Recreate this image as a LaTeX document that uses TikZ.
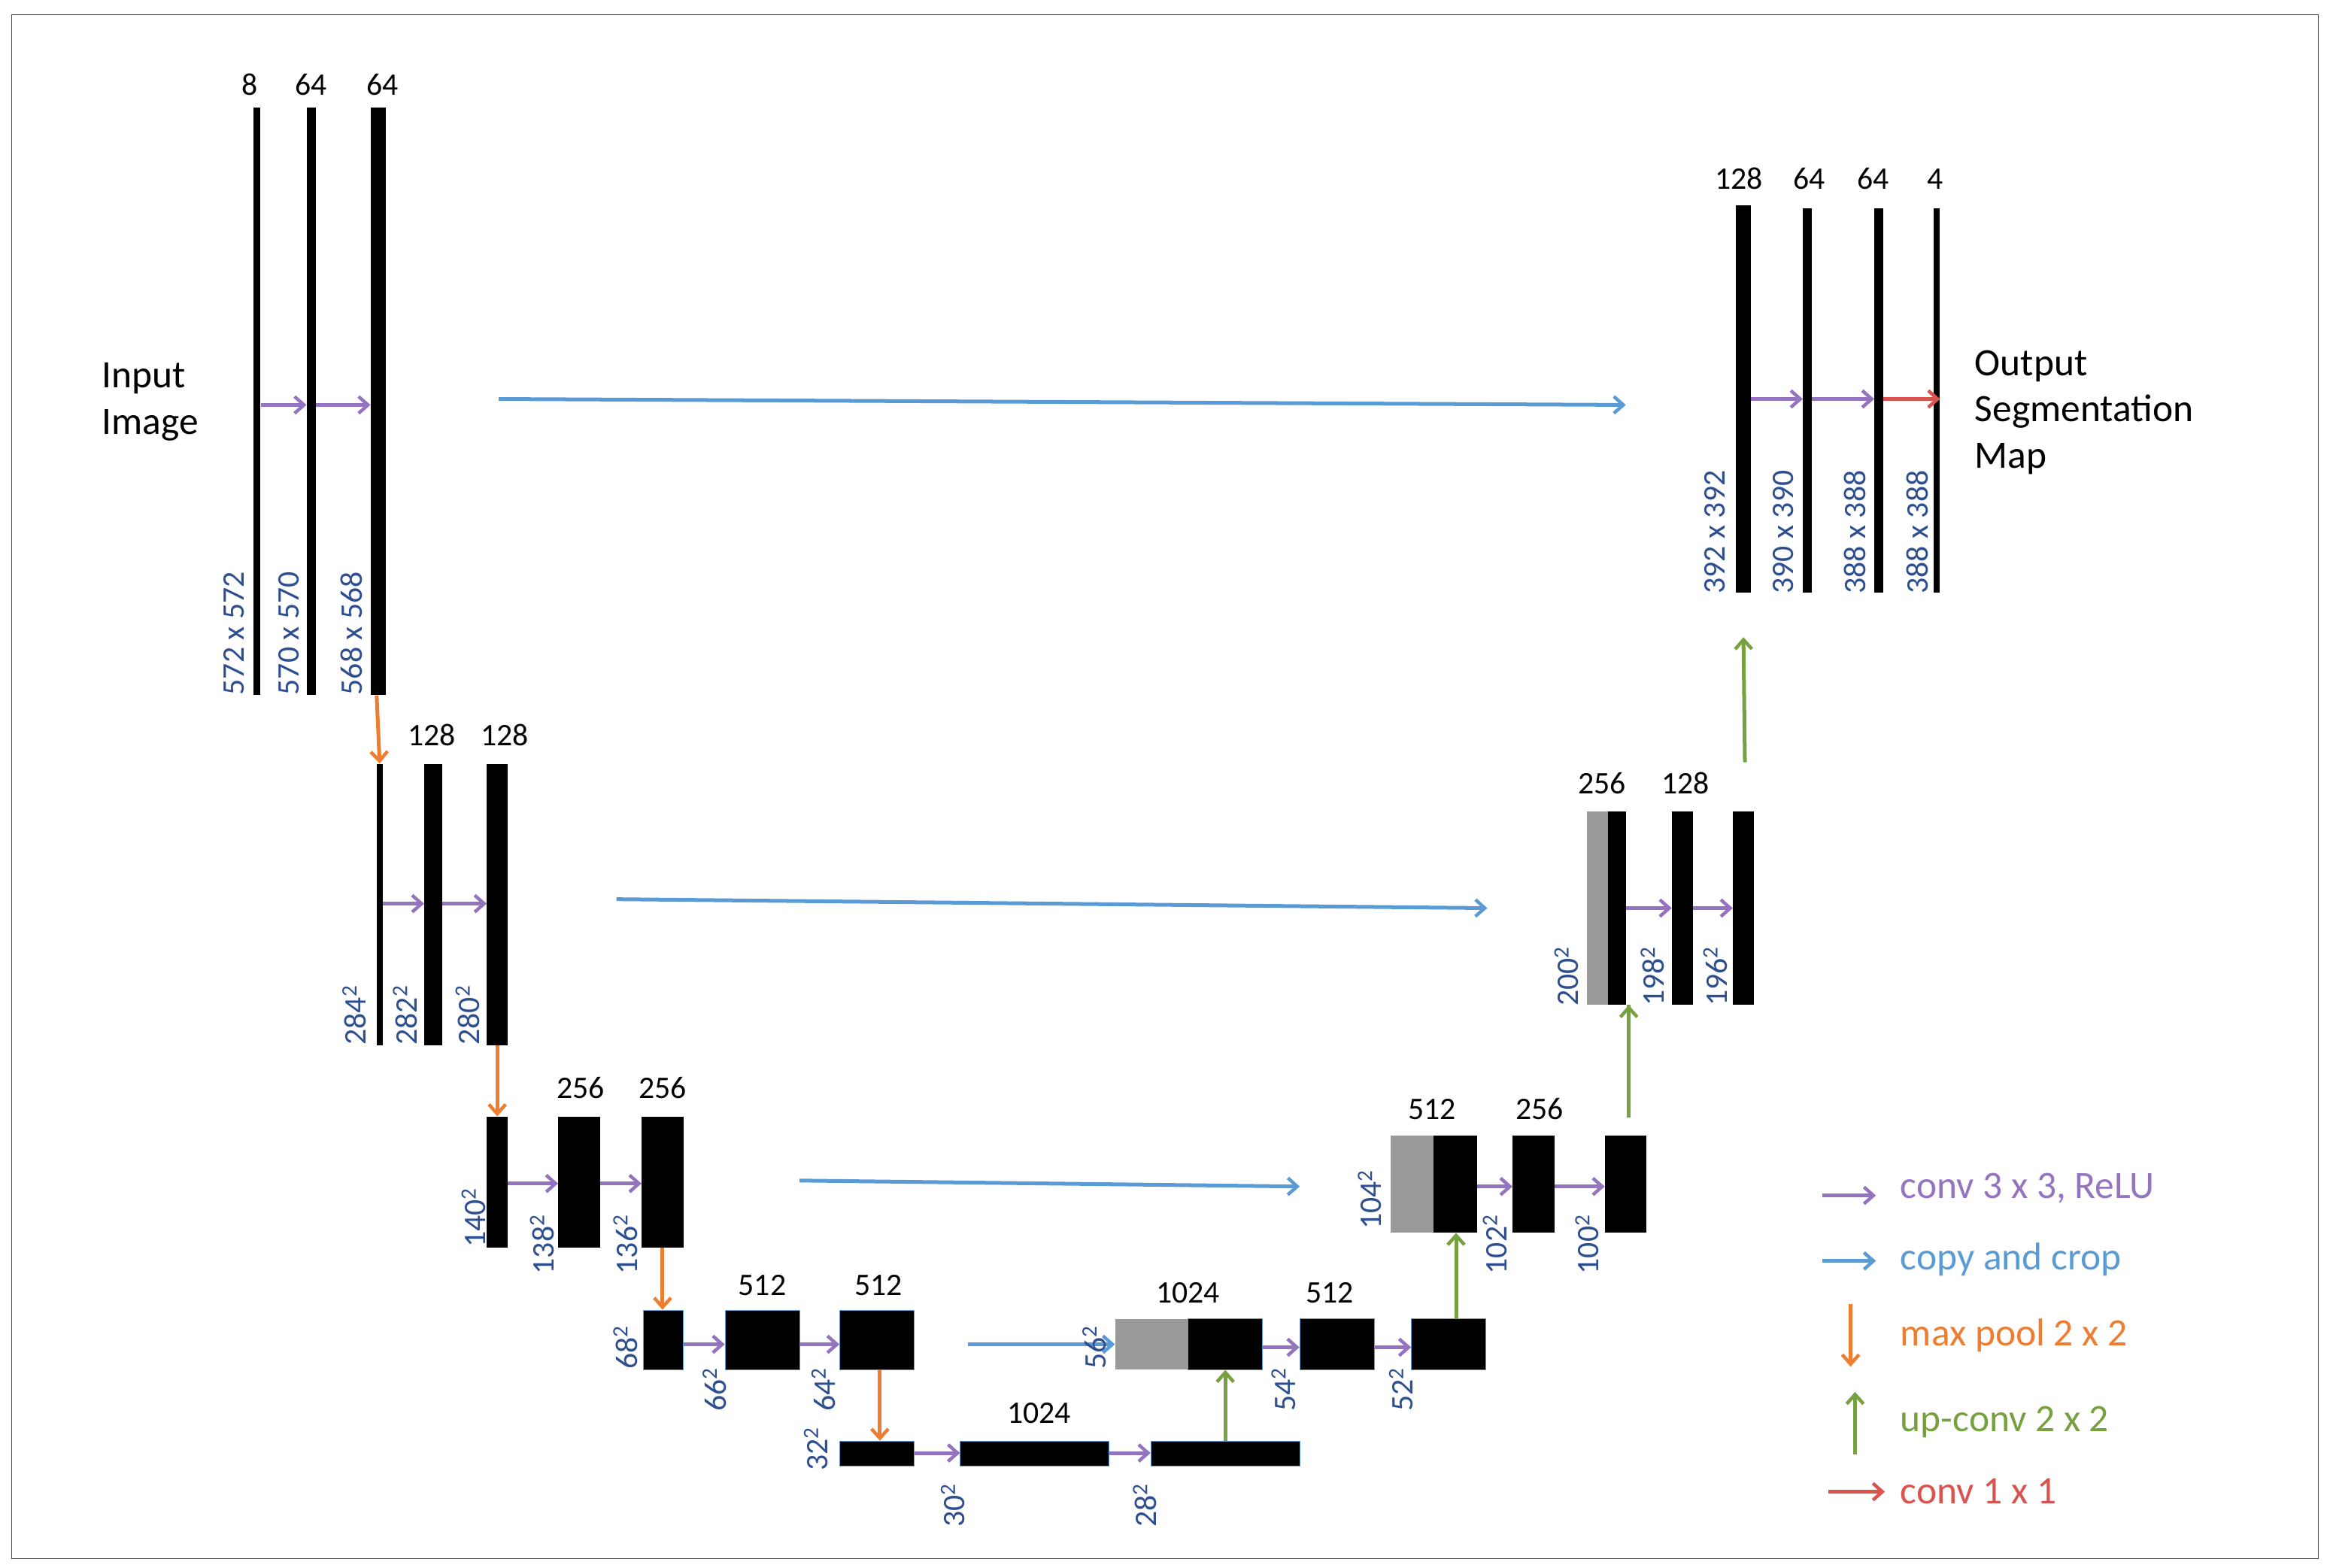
\documentclass[tikz,border=0pt]{standalone}
\usepackage{fontspec}
\setmainfont{Carlito}
\usetikzlibrary{fit,arrows.meta}
\definecolor{cpur}{HTML}{9473BF}
\definecolor{cblu}{HTML}{5B9BD5}
\definecolor{cora}{HTML}{ED7D31}
\definecolor{cgre}{HTML}{77A040}
\definecolor{cred}{HTML}{D9534F}
\definecolor{cdim}{HTML}{2E4F8F}
\definecolor{cgray}{HTML}{999999}
\begin{document}
\begin{tikzpicture}[x=0.5mm,y=-0.5mm,
  bar/.style={fill=black,draw=none,inner sep=0pt},
  bbar/.style={fill=black,draw=cblu,line width=0.6pt,inner sep=0pt},
  gbar/.style={fill=cgray,draw=none,inner sep=0pt},
  arr/.style={line width=3.6pt,-{Straight Barb[length=9pt,width=16pt,line width=3.2pt]}},
  pa/.style={arr,cpur},ba/.style={arr,cblu},oa/.style={arr,cora},ga/.style={arr,cgre},ra/.style={arr,cred},
  num/.style={font=\fontsize{30}{34}\selectfont,anchor=base},
  dim/.style={font=\fontsize{30}{34}\selectfont,text=cdim,rotate=90,anchor=west,inner sep=0pt},
  big/.style={font=\fontsize{37}{44}\selectfont,align=left,anchor=west},
  leg/.style={font=\fontsize{37}{44}\selectfont,anchor=west}]
\useasboundingbox (0,0) rectangle (1565,1053);
\draw[line width=0.8pt,black!70] (8,10) rectangle (1557,1047);
\newcommand{\mb}[6][bar]{\node[#1,fit={(#3,#5)(#4,#6)}] (#2) {};}
% level 1
\mb{a1}{170}{175}{72}{467}\mb{a2}{206}{212}{72}{467}\mb{a3}{249}{259}{72}{467}
\node[num] at (168,64) {8};\node[num] at (209,64) {64};\node[num] at (257,64) {64};
\draw[pa] (a1.east|-0,272) -- (a2.west|-0,272);
\draw[pa] (a2.east|-0,272) -- (a3.west|-0,272);
\node[dim] at (157,467) {572 x 572};\node[dim] at (194,467) {570 x 570};\node[dim] at (236,467) {568 x 568};
\node[big] (in) at (66,270) {Input\\Image};
\coordinate (c1s) at (335,268);\coordinate (c1e) at (1092,272);
\draw[ba] (c1s) -- (c1e);
% level 2
\mb{b1}{253}{257}{513}{702}\mb{b2}{285}{297}{513}{702}\mb{b3}{327}{341}{513}{702}
\draw[oa] (a3.south-|253,0) -- (b1.north);
\node[num] at (290,501) {128};\node[num] at (339,501) {128};
\draw[pa] (b1.east|-0,607) -- (b2.west|-0,607);
\draw[pa] (b2.east|-0,607) -- (b3.west|-0,607);
\node[dim] at (238,702) {284\textsuperscript{2}};\node[dim] at (272,702) {282\textsuperscript{2}};\node[dim] at (314,702) {280\textsuperscript{2}};
\coordinate (c2s) at (414,604);\coordinate (c2e) at (999,610);
\draw[ba] (c2s) -- (c2e);
% level 3
\mb{d1}{327}{341}{750}{838}\mb{d2}{375}{403}{750}{838}\mb{d3}{431}{459}{750}{838}
\draw[oa] (b3.south-|334,0) -- (d1.north);
\node[num] at (390,738) {256};\node[num] at (445,738) {256};
\draw[pa] (d1.east|-0,795) -- (d2.west|-0,795);
\draw[pa] (d2.east|-0,795) -- (d3.west|-0,795);
\node[dim] at (318,838) {140\textsuperscript{2}};\node[dim] at (364,856) {138\textsuperscript{2}};\node[dim] at (420,856) {136\textsuperscript{2}};
\coordinate (c3s) at (537,793);\coordinate (c3e) at (873,797);
\draw[ba] (c3s) -- (c3e);
% level 4
\mb[bbar]{e1}{432}{459}{880}{920}\mb[bbar]{e2}{487}{537}{880}{920}\mb[bbar]{e3}{564}{614}{880}{920}
\draw[oa] (d3.south-|445,0) -- (e1.north-|445,0);
\node[num] at (512,870) {512};\node[num] at (590,870) {512};
\draw[pa] (e1.east|-0,903) -- (e2.west|-0,903);
\draw[pa] (e2.east|-0,903) -- (e3.west|-0,903);
\node[dim] at (420,920) {68\textsuperscript{2}};\node[dim] at (480,948) {66\textsuperscript{2}};\node[dim] at (553,948) {64\textsuperscript{2}};
% level 5
\mb[bbar]{f1}{564}{614}{968}{985}\mb[bbar]{f2}{645}{745}{968}{985}\mb[bbar]{f3}{773}{873}{968}{985}
\draw[oa] (e3.south-|591,0) -- (f1.north-|591,0);
\node[num] at (698,956) {1024};
\draw[pa] (f1.east|-0,976) -- (f2.west|-0,976);
\draw[pa] (f2.east|-0,976) -- (f3.west|-0,976);
\node[dim] at (548,988) {32\textsuperscript{2}};\node[dim] at (640,1026) {30\textsuperscript{2}};\node[dim] at (769,1026) {28\textsuperscript{2}};
% level 4 right
\mb[gbar]{g0}{749}{798}{886}{920}\mb[bbar]{g1}{798}{848}{886}{920}\mb[bbar]{g2}{873}{923}{886}{920}\mb[bbar]{g3}{948}{998}{886}{920}
\draw[ba] (e3.east|-650,903) ++(36,0) -- (g0.west|-0,903);
\draw[ga] (f3.north-|823,0) -- (g1.south-|823,0);
\node[num] at (798,875) {1024};\node[num] at (893,875) {512};
\draw[pa] (g1.east|-0,905) -- (g2.west|-0,905);
\draw[pa] (g2.east|-0,905) -- (g3.west|-0,905);
\node[dim] at (735,920) {56\textsuperscript{2}};\node[dim] at (862,948) {54\textsuperscript{2}};\node[dim] at (941,948) {52\textsuperscript{2}};
% level 3 right
\mb[gbar]{h0}{934}{963}{763}{828}\mb{h1}{963}{992}{763}{828}\mb{h2}{1016}{1044}{763}{828}\mb{h3}{1078}{1106}{763}{828}
\draw[ga] (g3.north-|978,0) -- (h1.south-|978,0);
\node[num] at (962,752) {512};\node[num] at (1034,752) {256};
\draw[pa] (h1.east|-0,797) -- (h2.west|-0,797);
\draw[pa] (h2.east|-0,797) -- (h3.west|-0,797);
\node[dim] at (920,826) {104\textsuperscript{2}};\node[dim] at (1004,856) {102\textsuperscript{2}};\node[dim] at (1066,856) {100\textsuperscript{2}};
% level 2 right
\mb[gbar]{k0}{1066}{1080}{545}{675}\mb{k1}{1080}{1092}{545}{675}\mb{k2}{1123}{1137}{545}{675}\mb{k3}{1164}{1178}{545}{675}
\draw[ga] (h3.north-|1094,0) ++(0,-12) -- (k1.south-|1094,0) ++(0,0);
\node[num] at (1076,533) {256};\node[num] at (1132,533) {128};
\draw[pa] (k1.east|-0,610) -- (k2.west|-0,610);
\draw[pa] (k2.east|-0,610) -- (k3.west|-0,610);
\node[dim] at (1052,676) {200\textsuperscript{2}};\node[dim] at (1110,676) {198\textsuperscript{2}};\node[dim] at (1152,676) {196\textsuperscript{2}};
% level 1 right
\mb{m1}{1166}{1176}{138}{398}\mb{m2}{1211}{1217}{140}{398}\mb{m3}{1259}{1265}{140}{398}\mb{m4}{1299}{1303}{140}{398}
\coordinate (up1) at (1172,512);
\draw[ga] (up1) -- (m1.south|-0,428);
\node[num] at (1168,127) {128};\node[num] at (1215,127) {64};\node[num] at (1258,127) {64};\node[num] at (1300,127) {4};
\draw[pa] (m1.east|-0,268) -- (m2.west|-0,268);
\draw[pa] (m2.east|-0,268) -- (m3.west|-0,268);
\draw[ra] (m3.east|-0,268) -- (m4.east|-0,268);
\node[dim] at (1152,399) {392 x 392};\node[dim] at (1198,399) {390 x 390};\node[dim] at (1246,399) {388 x 388};\node[dim] at (1288,399) {388 x 388};
\node[big] (out) at (1324,277) {Output\\Segmentation\\Map};
% legend
\coordinate (l1a) at (1224,803);\coordinate (l1b) at (1260,803);
\coordinate (l2a) at (1224,847);\coordinate (l2b) at (1260,847);
\coordinate (l3a) at (1243,876);\coordinate (l3b) at (1243,918);
\coordinate (l4a) at (1246,977);\coordinate (l4b) at (1246,935);
\coordinate (l5a) at (1228,1002);\coordinate (l5b) at (1266,1002);
\draw[pa] (l1a) -- (l1b);\draw[ba] (l2a) -- (l2b);\draw[oa] (l3a) -- (l3b);\draw[ga] (l4a) -- (l4b);\draw[ra] (l5a) -- (l5b);
\node[leg,text=cpur] at (1274,798) {conv 3 x 3, ReLU};
\node[leg,text=cblu] at (1274,846) {copy and crop};
\node[leg,text=cora] at (1274,897) {max pool 2 x 2};
\node[leg,text=cgre] at (1274,955) {up-conv 2 x 2};
\node[leg,text=cred] at (1274,1002) {conv 1 x 1};
\end{tikzpicture}
\end{document}
